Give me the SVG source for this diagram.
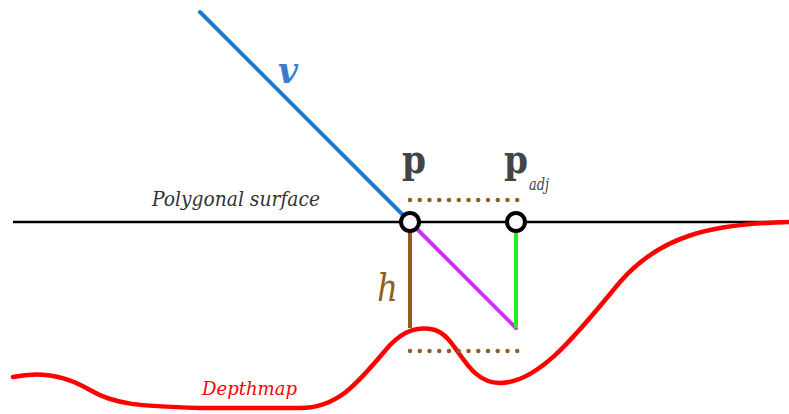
<svg xmlns="http://www.w3.org/2000/svg" width="789" height="414" viewBox="0 0 789 414">
<style>
.dots{stroke:#8f5f22;stroke-width:4.5;stroke-linecap:round;stroke-dasharray:0 9.75;fill:none}
.pt{fill:#fcf8ff;stroke:#000;stroke-width:4}
text{font-family:"DejaVu Serif",serif}
</style>
<rect width="789" height="414" fill="#fff"/>
<g id="connectors">
<line id="surface" x1="13" y1="222" x2="789" y2="222" stroke="#000" stroke-width="2.5"/>
<path id="depthmap" d="M13,377 C40,371 65,375 90,390 C115,405 140,406 200,408 L300,408 C340,408 360,380 390,345 C405,330 418,326 435,330 C458,337 465,383 500,383 C540,383 580,330 620,282 C660,236 710,224 789,222" fill="none" stroke="#ff0000" stroke-width="4.5" stroke-linecap="round"/>
<line id="v" x1="200" y1="12" x2="410" y2="222" stroke="#1b7bd0" stroke-width="4" stroke-linecap="round"/>
<line id="hline" x1="410" y1="222" x2="410" y2="328" stroke="#8f5f22" stroke-width="4"/>
<line id="diag" x1="410" y1="222" x2="516" y2="328" stroke="#cc33ff" stroke-width="4" stroke-linecap="round"/>
<line id="green" x1="516" y1="222" x2="516" y2="328" stroke="#22ee22" stroke-width="4"/>
<line class="dots" x1="410" y1="200" x2="518" y2="200"/>
<line class="dots" x1="410" y1="351" x2="518" y2="351"/>
</g>
<g id="p">
<circle class="pt" cx="410" cy="222" r="9"/>
<text x="402" y="173" font-size="40" font-weight="bold" fill="#444" textLength="24" lengthAdjust="spacingAndGlyphs">p</text>
</g>
<g id="padj">
<circle class="pt" cx="516" cy="222" r="9"/>
<text x="504" y="173" font-size="40" font-weight="bold" fill="#444" textLength="24" lengthAdjust="spacingAndGlyphs">p</text>
<text x="529" y="190" font-size="16" font-style="italic" fill="#444" textLength="20" lengthAdjust="spacingAndGlyphs">adj</text>
</g>
<g id="labels">
<text x="278" y="83" font-size="38" font-weight="bold" font-style="italic" fill="#3d7ad2" textLength="20" lengthAdjust="spacingAndGlyphs">v</text>
<text x="377" y="301" font-size="40" font-style="italic" fill="#8f5f22" textLength="21" lengthAdjust="spacingAndGlyphs">h</text>
<text x="152" y="206" font-size="21" font-style="italic" fill="#333" textLength="168" lengthAdjust="spacingAndGlyphs">Polygonal surface</text>
<text x="202" y="395" font-size="18" font-style="italic" fill="#ff0000" textLength="95" lengthAdjust="spacingAndGlyphs">Depthmap</text>
</g>
</svg>
